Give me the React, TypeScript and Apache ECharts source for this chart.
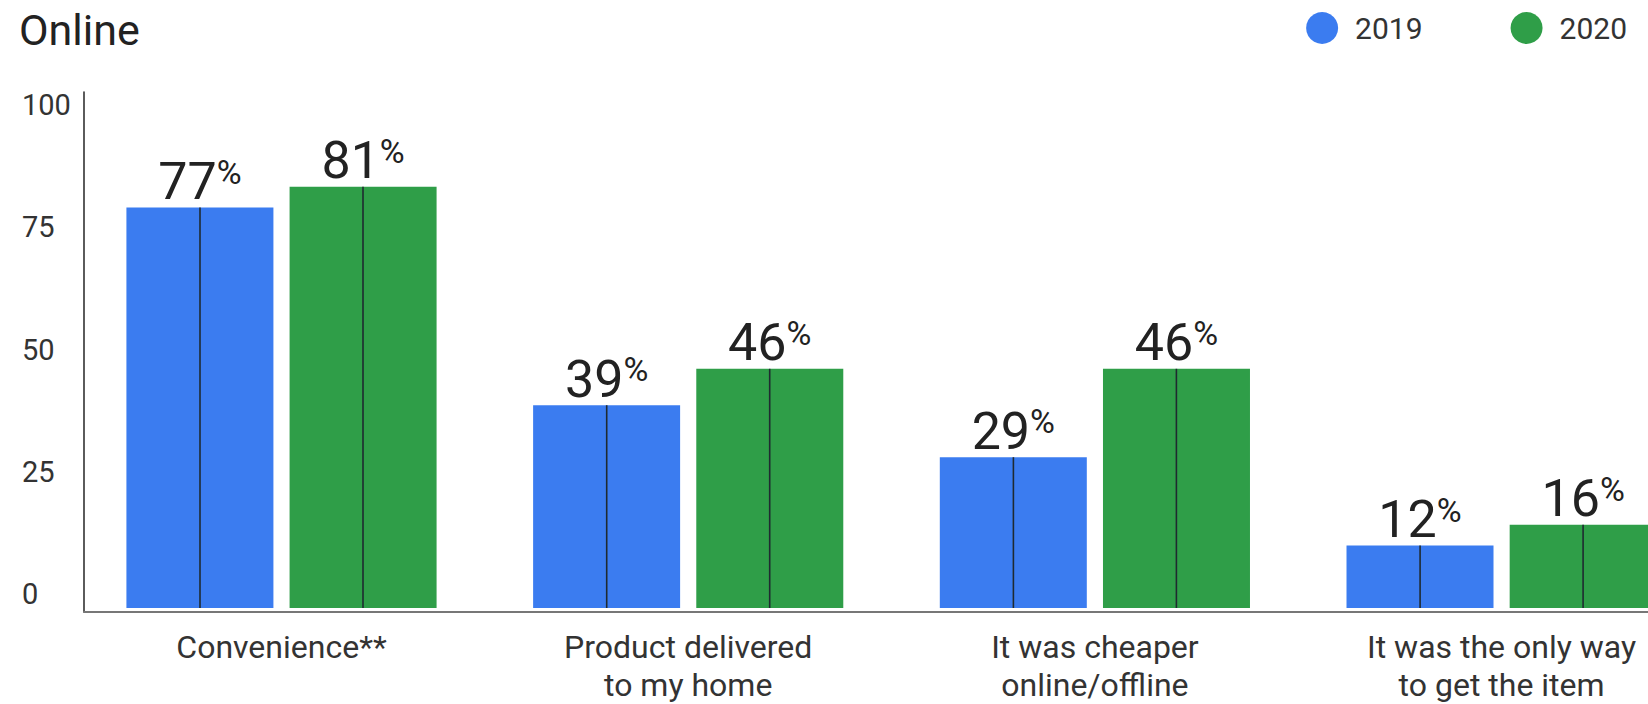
import React, { useEffect, useRef } from "react";
import * as echarts from "echarts";

const categories = [
  "Convenience**",
  "Product delivered\nto my home",
  "It was cheaper\nonline/offline",
  "It was the only way\nto get the item",
];
const categoryIndex = [0, 1, 2, 3];
const values2019 = [77, 39, 29, 12];
const values2020 = [81, 46, 46, 16];
const yTicks = [0, 25, 50, 75, 100];
const seriesNames = ["2019", "2020"];

const BLUE = "#3B7CF0";
const GREEN = "#2F9E48";
const FONT = "Roboto, 'Noto Sans', sans-serif";
const BAR_W = 147;
const BAR_OFFSET = 81.5;

export default function App() {
  const ref = useRef<HTMLDivElement>(null);
  useEffect(() => {
    if (!ref.current) return;
    const chart = echarts.init(ref.current, undefined, { renderer: "svg" });

    const labelCfg = {
      show: true,
      position: "top",
      distance: -1,
      formatter: (p: any) => `{a|${p.value[1]}}{b|%}`,
      rich: {
        a: { fontSize: 52, lineHeight: 54, color: "#222", fontFamily: FONT },
        b: { fontSize: 34, lineHeight: 34, color: "#222", fontFamily: FONT, verticalAlign: "top" },
      },
    };

    const lineSeries = (vals: number[], dir: number, name: string) => ({
      type: "custom",
      name,
      xAxisIndex: 0,
      yAxisIndex: 0,
      z: 5,
      silent: true,
      clip: false,
      data: vals.map((v, i) => [categoryIndex[i], v]),
      renderItem: (params: any, api: any) => {
        const top = api.coord([api.value(0), api.value(1)]);
        const base = api.coord([api.value(0), 0]);
        const x = top[0] + dir * BAR_OFFSET;
        return {
          type: "line",
          shape: { x1: x, y1: top[1], x2: x, y2: base[1] },
          style: { stroke: "#1f2a30", lineWidth: 1.6 },
        };
      },
    });

    chart.setOption({
      animation: false,
      backgroundColor: "#ffffff",
      title: {
        text: "Online",
        left: 14,
        top: 3,
        textStyle: { fontSize: 43, fontWeight: "normal", color: "#222", fontFamily: FONT },
      },
      legend: {
        data: seriesNames,
        right: 16,
        top: 7,
        icon: "circle",
        itemWidth: 32,
        itemHeight: 32,
        itemGap: 88,
        textStyle: { fontSize: 30, color: "#333", fontFamily: FONT, padding: [0, 0, 0, 12] },
      },
      grid: [
        { left: 281.5, top: 88, right: 0, height: 524, containLabel: false },
        { left: 84, top: 105, width: 10, height: 489, containLabel: false },
        { left: 84, top: 92, right: 0, height: 520, containLabel: false },
      ],
      xAxis: [
        {
          type: "value",
          gridIndex: 0,
          min: 0,
          max: 3.36,
          interval: 1,
          axisLine: { show: false },
          axisTick: { show: false },
          splitLine: { show: false },
          axisLabel: {
            fontSize: 32,
            lineHeight: 38,
            color: "#333",
            margin: 20,
            fontFamily: FONT,
            showMaxLabel: false,
            formatter: (v: number) => (Number.isInteger(v) && categories[v] ? categories[v] : ""),
          },
        },
        { type: "value", gridIndex: 1, show: false },
        {
          type: "value",
          gridIndex: 2,
          min: 0,
          max: 1,
          axisLine: { show: true, onZero: false, lineStyle: { color: "#777", width: 2 } },
          axisTick: { show: false },
          axisLabel: { show: false },
          splitLine: { show: false },
        },
      ],
      yAxis: [
        {
          type: "value",
          gridIndex: 0,
          min: 0,
          max: 100,
          axisLine: { show: false },
          axisTick: { show: false },
          axisLabel: { show: false },
          splitLine: { show: false },
        },
        {
          type: "value",
          gridIndex: 1,
          min: yTicks[0],
          max: yTicks[yTicks.length - 1],
          interval: 25,
          axisLine: { show: false },
          axisTick: { show: false },
          splitLine: { show: false },
          axisLabel: {
            align: "left",
            margin: 62,
            fontSize: 29,
            color: "#333",
            fontFamily: FONT,
          },
        },
        {
          type: "value",
          gridIndex: 2,
          min: 0,
          max: 1,
          axisLine: { show: true, onZero: false, lineStyle: { color: "#333", width: 1.6 } },
          axisTick: { show: false },
          axisLabel: { show: false },
          splitLine: { show: false },
        },
      ],
      series: [
        {
          name: seriesNames[0],
          type: "bar",
          xAxisIndex: 0,
          yAxisIndex: 0,
          clip: false,
          data: values2019.map((v, i) => [categoryIndex[i], v]),
          barWidth: BAR_W,
          barGap: "11%",
          itemStyle: { color: BLUE },
          label: labelCfg,
        },
        {
          name: seriesNames[1],
          type: "bar",
          xAxisIndex: 0,
          yAxisIndex: 0,
          clip: false,
          data: values2020.map((v, i) => [categoryIndex[i], v]),
          barWidth: BAR_W,
          barGap: "11%",
          itemStyle: { color: GREEN },
          label: labelCfg,
        },
        lineSeries(values2019, -1, "line2019"),
        lineSeries(values2020, 1, "line2020"),
      ],
    });
    return () => chart.dispose();
  }, []);
  return (
    <div
      ref={ref}
      style={{ position: "fixed", left: 0, top: 0, width: 1648, height: 704, background: "#fff" }}
    />
  );
}
